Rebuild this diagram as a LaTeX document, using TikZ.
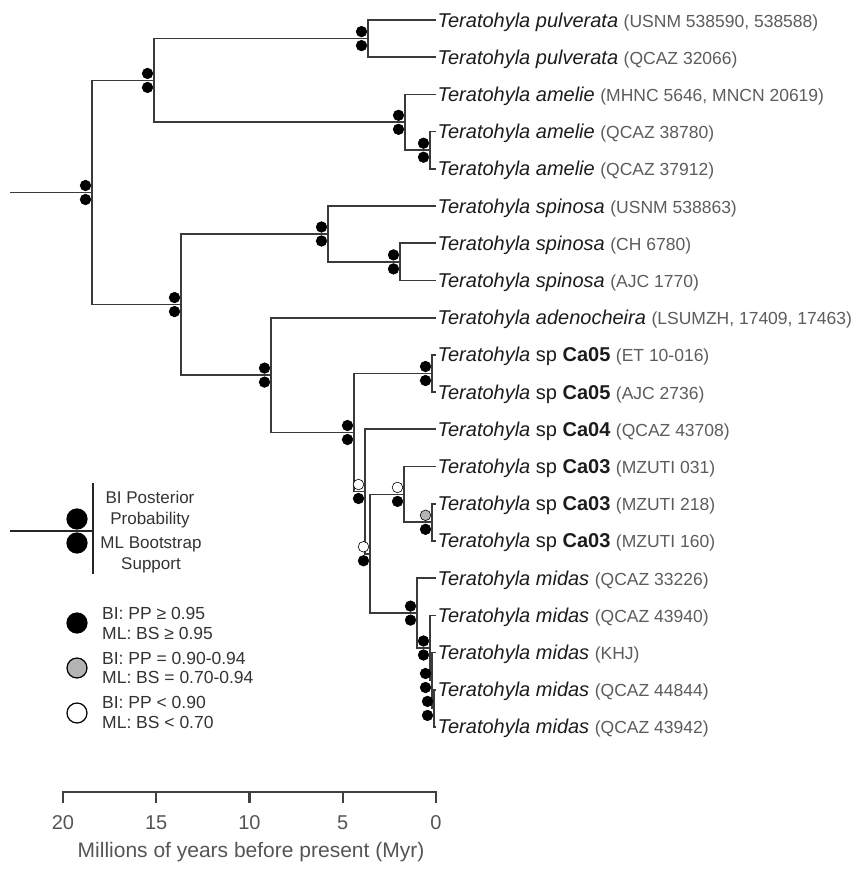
\documentclass[tikz,border=0pt]{standalone}
\usepackage{fontspec}
\setmainfont{Liberation Sans}
\definecolor{brc}{HTML}{3A3A3A}
\definecolor{nmc}{HTML}{1C1C1C}
\definecolor{spcc}{HTML}{5C5C5C}
\definecolor{lgc}{HTML}{333333}
\definecolor{axc}{HTML}{555555}
\definecolor{gfill}{HTML}{B4B4B4}
\newcommand\nmx[1]{{\itshape #1}}
\newcommand\spx[1]{{\fontsize{17.5}{20}\selectfont\color{spcc}#1}}
\newcommand\cax[1]{sp \textbf{#1}}
\begin{document}
\begin{tikzpicture}[x=1pt,y=-1pt,
  branch/.style={draw=brc, line width=1.7pt, line join=miter},
  tiplab/.style={anchor=base west, inner sep=0pt, font=\fontsize{20}{24}\selectfont, text=nmc},
  bdot/.style={circle, fill=black, draw=black, line width=0.6pt, minimum size=10.6pt, inner sep=0pt},
  wdot/.style={bdot, fill=white},
  gdot/.style={bdot, fill=gfill},
  kbdot/.style={circle, fill=black, draw=black, line width=1.2pt, minimum size=20pt, inner sep=0pt},
  kwdot/.style={kbdot, fill=white},
  kgdot/.style={kbdot, fill=gfill},
  lgtext/.style={font=\fontsize{17}{21}\selectfont, text=lgc, inner sep=0pt, align=center},
  keytext/.style={font=\fontsize{17.5}{19.5}\selectfont, text=lgc, inner sep=0pt, align=left, anchor=west},
  axlab/.style={font=\fontsize{20}{24}\selectfont, text=axc, inner sep=0pt}
]
\useasboundingbox (0,0) rectangle (867,873);

% internal nodes
\coordinate (R) at (92,192.5);
\coordinate (A) at (154,80.45);
\coordinate (P) at (368,38.6);
\coordinate (Am) at (405,122.3);
\coordinate (AmB) at (430,150.2);
\coordinate (B) at (181,304.55);
\coordinate (Sp) at (328,234);
\coordinate (SpB) at (400,261.9);
\coordinate (C) at (271,375.1);
\coordinate (D) at (354,432.5);
\coordinate (CaV) at (432,373.5);
\coordinate (E) at (365,491.5);
\coordinate (F) at (370,553.75);
\coordinate (G) at (404,494.4);
\coordinate (H) at (432,522.3);
\coordinate (I) at (417,613.1);
\coordinate (J) at (430,648);
\coordinate (K) at (432,680.5);
\coordinate (L) at (434,708.4);
\coordinate (stem) at (10,192.5);

% tips
\foreach \i in {1,...,20}{
  \coordinate (t\i) at (436,{20+37.21*(\i-1)});
}

% branches
\draw[branch] (stem) -- (R);
\foreach \p/\c in {R/A,R/B,A/P,A/Am,P/t1,P/t2,Am/t3,Am/AmB,AmB/t4,AmB/t5,
  B/Sp,B/C,Sp/t6,Sp/SpB,SpB/t7,SpB/t8,C/t9,C/D,D/CaV,D/E,CaV/t10,CaV/t11,
  E/t12,E/F,F/G,F/I,G/t13,G/H,H/t14,H/t15,I/t16,I/J,J/t17,J/K,K/t18,K/L,L/t19,L/t20}{
  \draw[branch] (\p) |- (\c);
}

% support dots
\foreach \n/\u/\d in {R/bdot/bdot,A/bdot/bdot,P/bdot/bdot,Am/bdot/bdot,AmB/bdot/bdot,
  B/bdot/bdot,Sp/bdot/bdot,SpB/bdot/bdot,C/bdot/bdot,D/bdot/bdot,CaV/bdot/bdot,
  E/wdot/bdot,F/wdot/bdot,G/wdot/bdot,H/gdot/bdot,I/bdot/bdot,J/bdot/bdot,K/bdot/bdot,L/bdot/bdot}{
  \node[\u] (\n up) at ([shift={(-6.5,-7)}]\n) {};
  \node[\d] (\n dn) at ([shift={(-6.5,7)}]\n) {};
}

% tip labels
\node[tiplab] (l1) at ([xshift=1.5pt,yshift=-7pt]t1) {\nmx{Teratohyla pulverata} \spx{(USNM 538590, 538588)}};
\node[tiplab] (l2) at ([xshift=1.5pt,yshift=-7pt]t2) {\nmx{Teratohyla pulverata} \spx{(QCAZ 32066)}};
\node[tiplab] (l3) at ([xshift=1.5pt,yshift=-7pt]t3) {\nmx{Teratohyla amelie} \spx{(MHNC 5646, MNCN 20619)}};
\node[tiplab] (l4) at ([xshift=1.5pt,yshift=-7pt]t4) {\nmx{Teratohyla amelie} \spx{(QCAZ 38780)}};
\node[tiplab] (l5) at ([xshift=1.5pt,yshift=-7pt]t5) {\nmx{Teratohyla amelie} \spx{(QCAZ 37912)}};
\node[tiplab] (l6) at ([xshift=1.5pt,yshift=-7pt]t6) {\nmx{Teratohyla spinosa} \spx{(USNM 538863)}};
\node[tiplab] (l7) at ([xshift=1.5pt,yshift=-7pt]t7) {\nmx{Teratohyla spinosa} \spx{(CH 6780)}};
\node[tiplab] (l8) at ([xshift=1.5pt,yshift=-7pt]t8) {\nmx{Teratohyla spinosa} \spx{(AJC 1770)}};
\node[tiplab] (l9) at ([xshift=1.5pt,yshift=-7pt]t9) {\nmx{Teratohyla adenocheira} \spx{(LSUMZH, 17409, 17463)}};
\node[tiplab] (l10) at ([xshift=1.5pt,yshift=-7pt]t10) {\nmx{Teratohyla} \cax{Ca05} \spx{(ET 10-016)}};
\node[tiplab] (l11) at ([xshift=1.5pt,yshift=-7pt]t11) {\nmx{Teratohyla} \cax{Ca05} \spx{(AJC 2736)}};
\node[tiplab] (l12) at ([xshift=1.5pt,yshift=-7pt]t12) {\nmx{Teratohyla} \cax{Ca04} \spx{(QCAZ 43708)}};
\node[tiplab] (l13) at ([xshift=1.5pt,yshift=-7pt]t13) {\nmx{Teratohyla} \cax{Ca03} \spx{(MZUTI 031)}};
\node[tiplab] (l14) at ([xshift=1.5pt,yshift=-7pt]t14) {\nmx{Teratohyla} \cax{Ca03} \spx{(MZUTI 218)}};
\node[tiplab] (l15) at ([xshift=1.5pt,yshift=-7pt]t15) {\nmx{Teratohyla} \cax{Ca03} \spx{(MZUTI 160)}};
\node[tiplab] (l16) at ([xshift=1.5pt,yshift=-7pt]t16) {\nmx{Teratohyla midas} \spx{(QCAZ 33226)}};
\node[tiplab] (l17) at ([xshift=1.5pt,yshift=-7pt]t17) {\nmx{Teratohyla midas} \spx{(QCAZ 43940)}};
\node[tiplab] (l18) at ([xshift=1.5pt,yshift=-7pt]t18) {\nmx{Teratohyla midas} \spx{(KHJ)}};
\node[tiplab] (l19) at ([xshift=1.5pt,yshift=-7pt]t19) {\nmx{Teratohyla midas} \spx{(QCAZ 44844)}};
\node[tiplab] (l20) at ([xshift=1.5pt,yshift=-7pt]t20) {\nmx{Teratohyla midas} \spx{(QCAZ 43942)}};

% legend: node key
\coordinate (kstem) at (10,531);
\coordinate (knode) at (93,531);
\coordinate (ktop) at (93,483);
\coordinate (kbot) at (93,574);
\draw[draw=black!85, line width=2.6pt] (kstem) -- (knode);
\draw[draw=black!85, line width=2.8pt] (ktop) -- (kbot);
\node[kbdot] (kup) at (77,519) {};
\node[kbdot] (kdn) at (77,543) {};
\node[lgtext] (kbi) at (150,509.5) {BI Posterior\\Probability};
\node[lgtext] (kml) at (151,555) {ML Bootstrap\\Support};

% legend: colour key
\node[kbdot] (c1) at (77,623) {};
\node[kgdot] (c2) at (77,668) {};
\node[kwdot] (c3) at (77,713) {};
\node[keytext] (c1t) at (102,623.5) {BI: PP ≥ 0.95\\ML: BS ≥ 0.95};
\node[keytext] (c2t) at (102,668) {BI: PP = 0.90-0.94\\ML: BS = 0.70-0.94};
\node[keytext] (c3t) at (102,712.5) {BI: PP < 0.90\\ML: BS < 0.70};

% axis
\coordinate (ax0) at (63,792);
\coordinate (ax1) at (436,792);
\draw[draw=black!75, line width=2.2pt, line cap=rect] (ax0) -- (ax1);
\foreach \x/\l in {63/20,156.25/15,249.5/10,342.75/5,436/0}{
  \draw[draw=black!75, line width=2.2pt] (\x,792) -- (\x,803);
  \node[axlab] (ax\l) at (\x,823) {\l};
}
\node[axlab, font=\fontsize{21}{24}\selectfont] (axtitle) at (251,852) {Millions of years before present (Myr)};
\end{tikzpicture}
\end{document}
